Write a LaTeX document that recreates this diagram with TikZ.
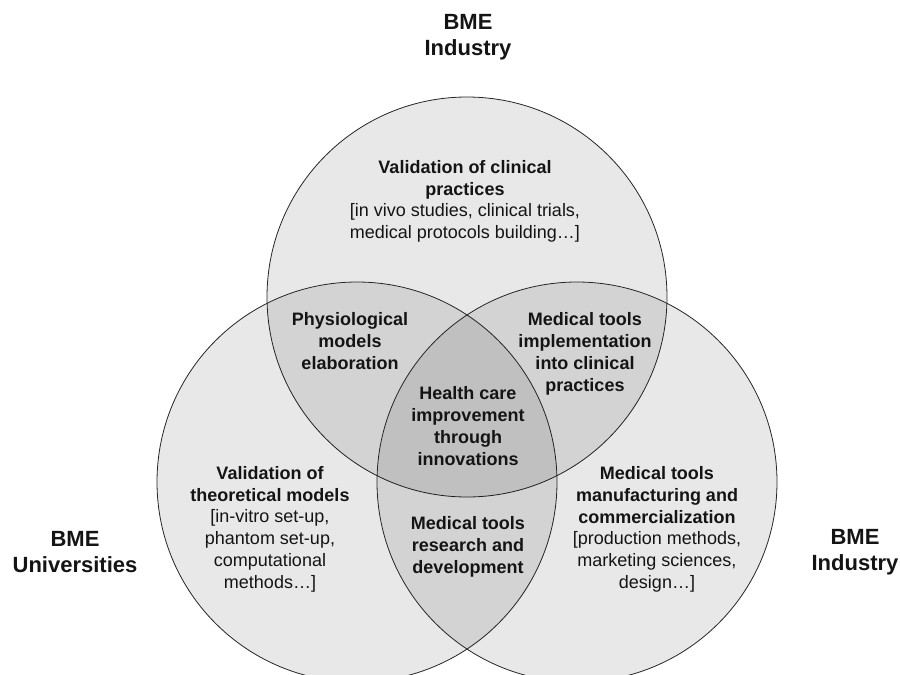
\documentclass[tikz,border=0pt]{standalone}
\usepackage{fontspec}
\setmainfont{Liberation Sans}
\begin{document}
\begin{tikzpicture}[x=1pt,y=-1pt,
  venn/.style={circle, minimum size=400pt, inner sep=0pt, fill=black, fill opacity=0.09, draw=black!85, line width=0.8pt},
  bold/.style={align=center, text=black!92, font=\bfseries\fontsize{18}{22}\selectfont},
  lbl/.style={align=center, text=black!92, font=\bfseries\fontsize{22}{26}\selectfont}]
\useasboundingbox (0,0) rectangle (900,675);
\begin{scope}
\clip (0,0) rectangle (900,675);
\node[venn] (ctop) at (467,297) {};
\node[venn] (cleft) at (357,482) {};
\node[venn] (cright) at (577,482) {};
\end{scope}
% outer labels
\node[lbl] (ltop) at (468,37) {BME\\Industry};
\node[lbl] (lleft) at (75,552) {BME\\Universities};
\node[lbl] (lright) at (855,552) {BME\\Industry};
% region texts
\node[bold] (t1) at (465,201) {Validation of clinical\\practices\\[-1pt]{\mdseries [in vivo studies, clinical trials,}\\{\mdseries medical protocols building…]}};
\node[bold] (t2) at (350,341) {Physiological\\models\\elaboration};
\node[bold] (t3) at (585,354) {Medical tools\\implementation\\into clinical\\practices};
\node[bold] (t4) at (468,426) {Health care\\improvement\\through\\innovations};
\node[bold] (t5) at (270,529) {Validation of\\theoretical models\\[-1pt]{\mdseries [in-vitro set-up,}\\{\mdseries phantom set-up,}\\{\mdseries computational}\\{\mdseries methods…]}};
\node[bold] (t6) at (468,547) {Medical tools\\research and\\development};
\node[bold] (t7) at (657,529) {Medical tools\\manufacturing and\\commercialization\\[-1pt]{\mdseries [production methods,}\\{\mdseries marketing sciences,}\\{\mdseries design…]}};
\end{tikzpicture}
\end{document}
